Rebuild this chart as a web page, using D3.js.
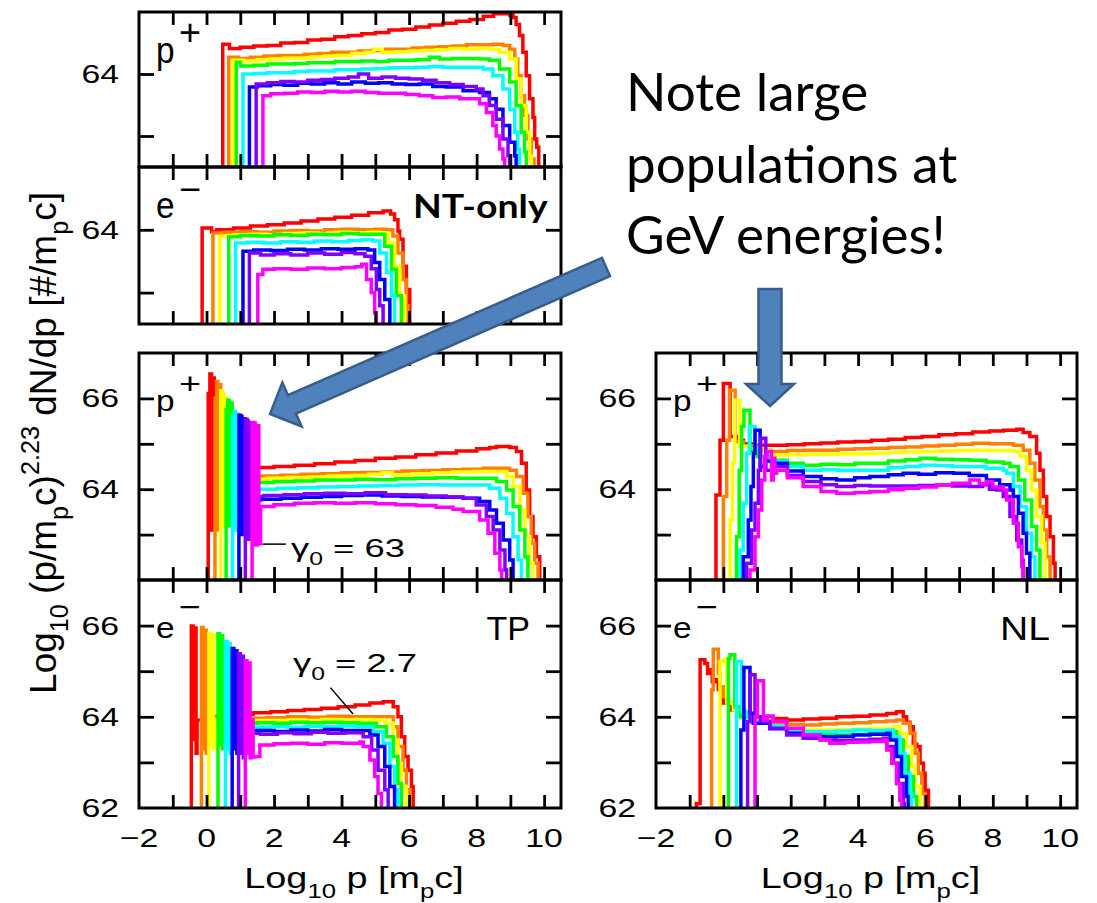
<!DOCTYPE html>
<html><head><meta charset="utf-8">
<script src="https://cdn.jsdelivr.net/npm/d3@7"></script>
<style>
html,body{margin:0;padding:0;background:#fff;}
svg{display:block;}
</style></head>
<body>
<svg id="chart" width="1097" height="903"></svg>
<script>
// Spectra: each curve is a list of [log10 p, log10 (p^2.23 dN/dp)] histogram points,
// ordered from the earliest (red) to the latest (magenta) time slice.
const sliceColors = ["#ff0000", "#ff8000", "#ffff00", "#00ff00", "#00ffff", "#0000ff", "#8000ff", "#ff00ff"];

const xTicks = [-2, 0, 2, 4, 6, 8, 10];

// Non-thermal injection only, protons
const ntProton = [
  [[0.48,62.5],[0.48,64.48],[0.68,64.41],[1.0,64.43],[1.4,64.45],[1.8,64.46],[2.2,64.5],[2.6,64.51],[3.0,64.55],[3.4,64.56],[3.8,64.6],[4.2,64.62],[4.6,64.65],[5.0,64.67],[5.4,64.71],[5.8,64.72],[6.2,64.76],[6.6,64.79],[7.0,64.82],[7.4,64.85],[7.8,64.88],[8.2,64.93],[8.5,64.97],[8.98,64.95],[9.08,64.91],[9.17,64.8],[9.27,64.62],[9.37,64.35],[9.47,63.97],[9.57,63.6],[9.67,63.3],[9.72,62.95],[9.78,62.82],[9.84,62.5]],
  [[0.66,62.5],[0.66,64.27],[0.95,64.25],[1.3,64.27],[1.7,64.29],[2.1,64.3],[2.5,64.3],[2.9,64.32],[3.3,64.33],[3.7,64.35],[4.1,64.35],[4.5,64.37],[4.9,64.38],[5.3,64.4],[5.7,64.4],[6.1,64.42],[6.5,64.43],[6.9,64.44],[7.3,64.45],[7.7,64.47],[8.1,64.47],[8.48,64.48],[8.78,64.46],[8.98,64.4],[9.13,64.24],[9.22,63.97],[9.32,63.65],[9.42,63.33],[9.52,62.95],[9.62,62.63],[9.7,62.5]],
  [[0.78,62.5],[0.78,64.22],[1.1,64.21],[1.5,64.23],[1.9,64.24],[2.3,64.26],[2.7,64.26],[3.1,64.28],[3.5,64.29],[3.9,64.3],[4.3,64.33],[4.7,64.35],[4.95,64.4],[5.2,64.35],[5.6,64.36],[6.0,64.37],[6.4,64.38],[6.8,64.39],[7.2,64.41],[7.6,64.4],[8.0,64.41],[8.4,64.4],[8.68,64.35],[8.98,64.24],[9.17,63.92],[9.32,63.49],[9.47,63.06],[9.57,62.68],[9.62,62.5]],
  [[0.88,62.5],[0.88,64.19],[1.0,64.13],[1.4,64.14],[1.8,64.16],[2.2,64.16],[2.6,64.17],[3.0,64.18],[3.4,64.18],[3.8,64.2],[4.2,64.2],[4.6,64.21],[5.0,64.2],[5.4,64.22],[5.8,64.22],[6.2,64.23],[6.6,64.27],[6.9,64.24],[7.3,64.25],[7.7,64.25],[8.1,64.24],[8.38,64.22],[8.68,64.08],[8.98,63.87],[9.17,63.49],[9.32,63.06],[9.42,62.74],[9.47,62.5]],
  [[1.08,62.5],[1.08,64.0],[1.4,64.01],[1.8,64.02],[2.2,64.02],[2.6,64.04],[3.0,64.05],[3.4,64.05],[3.8,64.07],[4.2,64.07],[4.6,64.08],[5.0,64.09],[5.4,64.1],[5.8,64.1],[6.2,64.11],[6.6,64.12],[7.0,64.11],[7.6,64.11],[8.19,64.08],[8.48,63.97],[8.78,63.76],[8.98,63.43],[9.13,63.06],[9.22,62.79],[9.27,62.5]],
  [[1.27,62.5],[1.27,63.79],[1.5,63.81],[1.9,63.83],[2.3,63.82],[2.7,63.85],[3.1,63.84],[3.5,63.86],[3.9,63.84],[4.3,63.87],[4.7,63.85],[5.1,63.86],[5.5,63.84],[5.9,63.83],[6.3,63.84],[6.7,63.8],[7.1,63.79],[7.6,63.73],[8.09,63.7],[8.38,63.6],[8.58,63.43],[8.78,63.17],[8.98,62.9],[9.13,62.68],[9.17,62.5]],
  [[1.47,62.5],[1.47,63.84],[1.8,63.86],[2.2,63.88],[2.6,63.87],[3.0,63.9],[3.4,63.91],[3.8,63.93],[4.2,63.95],[4.5,64.0],[4.8,63.93],[5.2,63.95],[5.6,63.93],[6.0,63.92],[6.4,63.9],[6.8,63.86],[7.2,63.83],[7.6,63.8],[7.99,63.76],[8.19,63.65],[8.38,63.49],[8.58,63.27],[8.78,62.95],[8.93,62.68],[8.98,62.5]],
  [[1.67,62.5],[1.67,63.65],[1.9,63.68],[2.3,63.69],[2.7,63.71],[3.1,63.7],[3.5,63.72],[3.9,63.71],[4.3,63.72],[4.7,63.7],[5.1,63.69],[5.5,63.69],[5.9,63.67],[6.3,63.65],[6.7,63.62],[7.1,63.63],[7.5,63.6],[7.8,63.6],[8.09,63.52],[8.29,63.38],[8.48,63.17],[8.58,63.0],[8.68,62.79],[8.78,62.63],[8.83,62.5]]
];

// Non-thermal injection only, electrons
const ntElectron = [
  [[-0.13,62.5],[-0.13,64.03],[0.15,63.97],[0.3,64.0],[0.8,64.03],[1.3,64.06],[1.8,64.08],[2.3,64.11],[2.8,64.14],[3.3,64.17],[3.8,64.2],[4.3,64.23],[4.8,64.27],[5.23,64.3],[5.45,64.25],[5.57,64.16],[5.67,63.98],[5.72,63.85],[5.82,63.42],[5.92,63.05],[6.02,62.5]],
  [[0.19,62.5],[0.19,63.95],[0.5,63.96],[1.0,63.97],[1.5,63.96],[2.0,63.98],[2.5,63.99],[3.0,63.98],[3.5,64.0],[4.0,64.01],[4.5,64.0],[5.0,64.01],[5.33,64.0],[5.52,63.9],[5.67,63.63],[5.82,63.21],[5.92,62.79],[5.97,62.5]],
  [[0.39,62.5],[0.39,63.9],[0.8,63.92],[1.3,63.93],[1.8,63.92],[2.3,63.94],[2.8,63.95],[3.3,63.94],[3.8,63.96],[4.3,63.95],[4.8,63.96],[5.13,63.95],[5.38,63.79],[5.57,63.42],[5.72,62.95],[5.87,62.5]],
  [[0.66,62.5],[0.66,63.89],[1.0,63.91],[1.5,63.9],[2.0,63.92],[2.5,63.91],[3.0,63.93],[3.5,63.92],[4.0,63.94],[4.5,63.93],[5.03,63.93],[5.28,63.74],[5.48,63.37],[5.62,62.95],[5.77,62.5]],
  [[0.86,62.5],[0.86,63.79],[1.2,63.8],[1.7,63.79],[2.2,63.81],[2.7,63.8],[3.2,63.82],[3.7,63.81],[4.2,63.83],[4.6,63.84],[4.93,63.82],[5.13,63.63],[5.33,63.32],[5.48,62.95],[5.57,62.5]],
  [[1.08,62.5],[1.08,63.66],[1.4,63.68],[1.9,63.67],[2.4,63.69],[2.9,63.68],[3.4,63.7],[3.9,63.69],[4.4,63.7],[4.78,63.68],[4.98,63.48],[5.13,63.21],[5.28,62.89],[5.43,62.5]],
  [[1.27,62.5],[1.27,63.63],[1.6,63.6],[2.0,63.62],[2.5,63.6],[3.0,63.63],[3.5,63.61],[4.0,63.64],[4.4,63.62],[4.69,63.58],[4.88,63.38],[5.03,63.05],[5.13,62.79],[5.23,62.5]],
  [[1.52,62.5],[1.52,63.29],[1.67,63.37],[2.0,63.38],[2.5,63.37],[3.0,63.39],[3.5,63.38],[4.0,63.4],[4.4,63.41],[4.6,63.45],[4.74,63.21],[4.88,63.0],[4.98,62.68],[5.03,62.5]]
];

// Test-particle run, protons
const tpProton = [
  [[0.05,62],[0.05,66.11],[0.1,66.54],[0.15,63.1],[0.19,66.45],[0.23,63.2],[0.27,64.48],[1.0,64.47],[1.58,64.48],[2.0,64.5],[2.6,64.53],[3.2,64.56],[3.8,64.6],[4.4,64.63],[5.0,64.68],[5.6,64.71],[6.2,64.76],[6.8,64.8],[7.4,64.84],[8.0,64.89],[8.39,64.92],[8.59,64.94],[8.98,64.92],[9.18,64.83],[9.33,64.57],[9.47,63.98],[9.57,63.4],[9.67,62.95],[9.77,62.51],[9.87,62]],
  [[0.25,62],[0.25,66.0],[0.3,66.37],[0.34,63.1],[0.38,66.3],[0.42,63.2],[0.46,64.28],[1.0,64.28],[1.6,64.29],[2.2,64.31],[2.8,64.33],[3.4,64.34],[4.0,64.36],[4.6,64.37],[5.2,64.38],[5.8,64.4],[6.4,64.41],[7.0,64.43],[7.6,64.44],[8.2,64.46],[8.61,64.46],[8.98,64.42],[9.18,64.28],[9.38,63.91],[9.52,63.4],[9.62,62.81],[9.72,62.37],[9.82,62]],
  [[0.42,62],[0.42,66.17],[0.47,66.1],[0.51,63.2],[0.55,66.0],[0.6,64.22],[1.2,64.22],[1.8,64.24],[2.4,64.26],[3.0,64.27],[3.6,64.29],[4.2,64.3],[4.8,64.33],[5.2,64.37],[5.5,64.32],[6.1,64.34],[6.7,64.36],[7.3,64.38],[7.9,64.39],[8.5,64.39],[8.89,64.28],[9.08,64.06],[9.28,63.54],[9.43,62.95],[9.57,62.37],[9.67,62]],
  [[0.58,62],[0.58,65.75],[0.63,65.96],[0.67,63.2],[0.71,65.9],[0.76,64.14],[1.4,64.15],[2.0,64.17],[2.6,64.18],[3.2,64.2],[3.8,64.2],[4.4,64.22],[5.0,64.21],[5.6,64.23],[6.2,64.24],[6.8,64.25],[7.4,64.24],[8.0,64.24],[8.59,64.17],[8.89,63.98],[9.08,63.62],[9.28,63.1],[9.43,62.51],[9.52,62]],
  [[0.77,62],[0.77,65.6],[0.82,65.71],[0.86,63.1],[0.9,65.65],[0.95,64.0],[1.5,64.0],[2.1,64.02],[2.7,64.03],[3.3,64.05],[3.9,64.06],[4.5,64.07],[5.1,64.08],[5.7,64.09],[6.3,64.1],[6.9,64.09],[7.6,64.09],[8.39,64.02],[8.69,63.8],[8.89,63.47],[9.08,62.95],[9.23,62.44],[9.33,62]],
  [[0.96,62],[0.96,65.63],[1.01,65.6],[1.05,63.0],[1.09,65.55],[1.14,63.76],[1.6,63.78],[2.2,63.8],[2.8,63.82],[3.4,63.84],[4.0,63.86],[4.6,63.87],[5.2,63.85],[5.8,63.84],[6.4,63.83],[7.0,63.82],[7.6,63.8],[8.09,63.73],[8.39,63.54],[8.59,63.25],[8.79,62.88],[8.98,62.44],[9.08,62]],
  [[1.15,62],[1.15,65.54],[1.2,65.5],[1.24,62.9],[1.28,65.45],[1.33,63.84],[1.7,63.86],[2.3,63.88],[2.9,63.9],[3.5,63.91],[4.1,63.9],[4.7,63.92],[5.3,63.88],[5.9,63.87],[6.5,63.85],[7.1,63.83],[7.6,63.8],[7.99,63.65],[8.29,63.4],[8.49,63.1],[8.69,62.66],[8.84,62.22],[8.89,62]],
  [[1.35,62],[1.35,65.47],[1.4,65.45],[1.45,62.77],[1.5,65.4],[1.55,62.8],[1.6,63.62],[2.0,63.66],[2.6,63.69],[3.2,63.7],[3.8,63.69],[4.4,63.7],[5.0,63.68],[5.6,63.66],[6.2,63.64],[6.8,63.6],[7.3,63.56],[7.6,63.51],[8.09,63.32],[8.34,63.03],[8.54,62.59],[8.69,62.22],[8.74,62]]
];

// Test-particle run, electrons
const tpElectron = [
  [[-0.45,62],[-0.45,65.99],[-0.4,63.5],[-0.36,65.95],[-0.31,63.2],[-0.28,63.93],[0.3,64.0],[0.9,64.05],[1.38,64.09],[1.9,64.11],[2.4,64.14],[2.9,64.16],[3.4,64.19],[3.9,64.22],[4.4,64.26],[4.84,64.3],[5.23,64.33],[5.53,64.22],[5.67,64.0],[5.77,63.56],[5.87,63.13],[5.97,62.83],[6.07,62.47],[6.12,62]],
  [[-0.15,62],[-0.15,65.96],[-0.1,63.3],[-0.06,65.9],[-0.01,63.2],[0.02,63.97],[0.6,63.97],[1.2,63.97],[1.8,63.98],[2.4,64.0],[3.0,63.99],[3.6,64.01],[4.2,64.0],[4.64,64.0],[5.23,64.0],[5.53,63.78],[5.67,63.35],[5.82,62.83],[5.92,62.4],[6.02,62]],
  [[0.07,62],[0.07,65.83],[0.12,63.4],[0.16,65.8],[0.21,63.3],[0.24,63.92],[0.8,63.91],[1.4,63.92],[1.9,63.92],[2.4,63.93],[2.9,63.92],[3.4,63.94],[3.9,63.93],[4.4,63.94],[4.9,63.93],[5.28,63.86],[5.53,63.49],[5.67,62.98],[5.77,62.47],[5.92,62]],
  [[0.34,62],[0.34,65.82],[0.39,63.4],[0.43,65.78],[0.48,63.3],[0.51,63.87],[1.0,63.86],[1.5,63.87],[2.0,63.86],[2.5,63.88],[3.0,63.87],[3.5,63.88],[4.0,63.87],[4.5,63.86],[5.03,63.78],[5.33,63.56],[5.53,63.13],[5.67,62.54],[5.77,62]],
  [[0.56,62],[0.56,65.65],[0.61,63.3],[0.65,65.6],[0.7,63.2],[0.73,63.77],[1.4,63.77],[1.9,63.78],[2.4,63.77],[2.9,63.79],[3.4,63.78],[3.9,63.8],[4.4,63.79],[4.94,63.67],[5.23,63.42],[5.43,62.91],[5.57,62.4],[5.67,62]],
  [[0.76,62],[0.76,65.5],[0.81,63.3],[0.85,65.45],[0.9,63.2],[0.93,63.69],[1.5,63.7],[2.0,63.68],[2.5,63.71],[3.0,63.69],[3.5,63.72],[4.0,63.7],[4.4,63.7],[4.84,63.6],[5.08,63.35],[5.28,62.91],[5.43,62.47],[5.57,62]],
  [[0.95,62],[0.95,65.38],[1.0,63.2],[1.04,65.33],[1.09,63.1],[1.12,63.64],[1.6,63.62],[2.1,63.65],[2.6,63.63],[3.1,63.66],[3.6,63.64],[4.1,63.65],[4.64,63.56],[4.89,63.27],[5.08,62.83],[5.28,62.4],[5.38,62]],
  [[1.15,62],[1.15,65.23],[1.2,63.2],[1.24,65.18],[1.29,63.1],[1.33,63.93],[1.38,63.12],[1.43,63.13],[1.58,63.38],[2.0,63.41],[2.5,63.42],[3.0,63.4],[3.5,63.43],[4.0,63.42],[4.54,63.45],[4.64,63.35],[4.84,63.05],[4.98,62.69],[5.08,62.32],[5.18,62]]
];

// Nonlinear run, protons
const nlProton = [
  [[-0.22,62],[-0.22,63.87],[-0.1,65.08],[0.0,66.33],[0.2,65.16],[0.39,65.08],[0.6,65.0],[0.9,64.97],[1.4,64.97],[1.9,64.98],[2.4,65.0],[2.9,65.02],[3.4,65.04],[3.9,65.05],[4.4,65.08],[4.9,65.1],[5.4,65.14],[5.9,65.16],[6.4,65.2],[6.9,65.22],[7.4,65.26],[7.9,65.28],[8.31,65.3],[8.71,65.32],[8.9,65.25],[9.1,65.16],[9.3,64.79],[9.4,64.42],[9.5,63.84],[9.6,63.4],[9.7,62.95],[9.8,62.37],[9.85,62]],
  [[0.0,62],[0.0,63.84],[0.1,65.08],[0.18,66.18],[0.35,65.05],[0.6,64.95],[1.0,64.86],[1.4,64.83],[1.9,64.85],[2.4,64.86],[2.9,64.86],[3.4,64.88],[3.9,64.89],[4.4,64.9],[4.9,64.92],[5.4,64.93],[5.9,64.95],[6.4,64.97],[6.9,64.99],[7.4,65.01],[7.9,65.0],[8.3,65.0],[8.61,64.97],[8.9,64.86],[9.1,64.57],[9.25,64.2],[9.4,63.62],[9.5,63.1],[9.6,62.51],[9.7,62]],
  [[0.2,62],[0.2,63.32],[0.27,64.57],[0.34,65.96],[0.49,64.94],[0.8,64.85],[1.38,64.75],[1.9,64.76],[2.4,64.77],[2.9,64.77],[3.4,64.78],[3.9,64.78],[4.35,64.79],[4.9,64.81],[5.4,64.82],[5.9,64.83],[6.4,64.84],[6.9,64.85],[7.32,64.86],[7.9,64.85],[8.61,64.83],[8.81,64.72],[9.0,64.42],[9.15,63.98],[9.3,63.4],[9.45,62.81],[9.55,62]],
  [[0.39,62],[0.39,62.95],[0.47,64.42],[0.54,65.38],[0.61,65.74],[0.79,64.86],[1.0,64.72],[1.38,64.64],[1.9,64.57],[2.37,64.53],[2.9,64.55],[3.4,64.54],[3.9,64.57],[4.35,64.57],[4.9,64.62],[5.4,64.65],[5.84,64.68],[6.3,64.66],[6.8,64.65],[7.32,64.64],[7.8,64.6],[8.31,64.57],[8.51,64.5],[8.76,64.2],[8.95,63.76],[9.15,63.18],[9.3,62.66],[9.4,62]],
  [[0.49,62],[0.49,62.66],[0.59,63.69],[0.69,64.79],[0.77,65.38],[0.94,64.9],[1.1,64.72],[1.38,64.61],[1.9,64.5],[2.37,64.42],[2.9,64.43],[3.4,64.41],[3.9,64.42],[4.35,64.42],[4.9,64.48],[5.4,64.5],[5.84,64.53],[6.3,64.52],[6.8,64.5],[7.32,64.5],[7.8,64.46],[8.31,64.42],[8.41,64.35],[8.61,64.06],[8.81,63.62],[9.0,63.03],[9.15,62.51],[9.25,62]],
  [[0.59,62],[0.59,62.51],[0.74,63.32],[0.82,64.06],[0.89,64.79],[0.94,65.3],[1.09,64.5],[1.25,64.62],[1.48,64.57],[1.9,64.4],[2.37,64.28],[2.9,64.23],[3.36,64.2],[3.9,64.25],[4.35,64.28],[4.9,64.32],[5.34,64.35],[5.8,64.33],[6.3,64.36],[6.83,64.35],[7.3,64.3],[7.81,64.2],[8.2,64.1],[8.51,63.98],[8.61,63.84],[8.76,63.47],[8.9,63.03],[9.0,62.59],[9.1,62]],
  [[0.69,62],[0.69,62.37],[0.84,63.1],[0.94,63.69],[1.04,64.42],[1.11,65.12],[1.26,64.42],[1.48,64.5],[1.9,64.3],[2.37,64.17],[2.9,64.1],[3.36,64.06],[3.9,64.08],[4.35,64.07],[4.9,64.07],[5.34,64.07],[5.8,64.08],[6.33,64.09],[6.8,64.07],[7.32,64.06],[7.7,64.1],[7.9,64.0],[8.11,63.98],[8.31,63.84],[8.51,63.4],[8.71,62.88],[8.86,62.44],[8.9,62]],
  [[0.79,62],[0.79,62.22],[0.94,62.95],[1.04,63.54],[1.14,64.2],[1.23,64.72],[1.3,64.83],[1.43,64.2],[1.48,64.68],[1.53,64.35],[1.58,64.42],[1.9,64.25],[2.37,64.06],[2.9,63.95],[3.36,63.91],[3.9,63.93],[4.35,63.95],[4.9,63.99],[5.34,64.02],[5.8,64.05],[6.33,64.09],[6.8,64.13],[7.32,64.2],[7.6,64.12],[7.81,64.17],[8.0,64.05],[8.31,63.98],[8.41,63.76],[8.61,63.25],[8.76,62.73],[8.86,62.29],[8.9,62]]
];

// Nonlinear run, electrons
const nlElectron = [
  [[-0.8,62],[-0.8,62.1],[-0.69,65.25],[-0.55,65.17],[-0.47,64.95],[-0.4,65.03],[-0.33,64.77],[-0.25,64.81],[-0.15,64.6],[-0.05,64.4],[0.0,64.3],[0.2,64.15],[0.39,64.15],[0.6,64.05],[0.89,64.0],[1.38,63.96],[1.88,63.93],[2.37,63.95],[2.87,63.97],[3.36,64.0],[3.86,64.01],[4.35,64.04],[4.85,64.07],[5.14,64.11],[5.34,64.0],[5.44,63.88],[5.54,63.78],[5.64,63.4],[5.74,63.35],[5.84,62.98],[5.94,62.76],[5.99,62.39],[6.09,62]],
  [[-0.35,62],[-0.35,64.59],[-0.3,65.48],[-0.15,64.95],[-0.1,64.66],[0.0,64.44],[0.15,64.3],[0.35,64.15],[0.6,64.05],[0.89,63.93],[1.38,63.84],[1.88,63.83],[2.37,63.82],[2.87,63.84],[3.36,63.86],[3.86,63.87],[4.35,63.89],[4.85,63.91],[5.14,63.93],[5.34,63.86],[5.54,63.64],[5.69,63.2],[5.79,62.76],[5.89,62.32],[5.99,62]],
  [[-0.1,62],[-0.1,65.21],[0.0,65.25],[0.1,64.3],[0.3,64.15],[0.5,64.05],[0.89,63.93],[1.38,63.78],[1.88,63.74],[2.37,63.71],[2.87,63.71],[3.36,63.72],[3.86,63.73],[4.35,63.75],[5.05,63.78],[5.24,63.64],[5.44,63.35],[5.59,62.91],[5.69,62.47],[5.84,62]],
  [[0.15,62],[0.15,65.28],[0.2,65.36],[0.34,64.22],[0.5,64.0],[0.89,63.86],[1.38,63.75],[1.88,63.68],[2.37,63.64],[2.87,63.61],[3.36,63.6],[3.86,63.62],[4.35,63.64],[4.95,63.67],[5.14,63.49],[5.34,63.13],[5.49,62.69],[5.64,62.25],[5.74,62]],
  [[0.39,62],[0.39,65.21],[0.54,64.11],[0.7,63.98],[0.89,63.89],[1.38,63.8],[1.88,63.71],[2.37,63.68],[2.87,63.67],[3.36,63.69],[3.86,63.71],[4.35,63.7],[4.85,63.71],[5.05,63.56],[5.24,63.2],[5.39,62.76],[5.54,62.32],[5.59,62]],
  [[0.52,62],[0.52,63.71],[0.61,65.08],[0.79,64.08],[0.89,63.86],[1.38,63.74],[1.88,63.64],[2.37,63.59],[2.87,63.56],[3.36,63.57],[3.86,63.6],[4.35,63.62],[4.85,63.64],[4.95,63.49],[5.14,63.13],[5.29,62.69],[5.44,62.25],[5.49,62]],
  [[0.72,62],[0.72,63.89],[0.79,64.92],[0.94,64.0],[1.1,63.9],[1.38,63.75],[1.88,63.6],[2.37,63.53],[2.87,63.49],[3.36,63.48],[3.86,63.49],[4.35,63.51],[4.75,63.53],[4.85,63.35],[5.05,62.98],[5.19,62.54],[5.34,62.1],[5.37,62]],
  [[0.94,62],[0.94,64.0],[1.01,64.79],[1.19,63.93],[1.3,64.02],[1.48,63.9],[1.88,63.75],[2.37,63.6],[2.87,63.5],[3.16,63.42],[3.6,63.44],[4.0,63.45],[4.35,63.46],[4.75,63.49],[4.85,63.27],[5.0,62.98],[5.14,62.54],[5.24,62.17],[5.29,62]]
];

const svg = d3.select("#chart");
const plotFont = "'Liberation Sans', Arial, Helvetica, sans-serif";
const STRETCH = 1.3;   // plot lettering is set wide

// Text with optional sub/superscript runs; sx/sy widen or heighten the lettering
function richText(parent, x, y, runs, size, opts = {}) {
  const sx = opts.sx == null ? STRETCH : opts.sx;
  const sy = opts.sy || 1;
  const g = parent.append("g").attr("transform", `translate(${x},${y}) scale(${sx},${sy})${opts.rotate ? " rotate(-90)" : ""}`);
  const t = g.append("text")
    .attr("font-family", opts.family || plotFont)
    .attr("font-size", size)
    .attr("font-weight", opts.weight || "normal")
    .attr("text-anchor", opts.anchor || "start")
    .attr("fill", "#000");
  let shift = 0;
  runs.forEach(r => {
    const [txt, kind] = typeof r === "string" ? [r, "n"] : r;
    let target = 0, fs = size;
    if (kind === "sub") { target = size * 0.32; fs = size * 0.68; }
    if (kind === "sup") { target = -size * 0.45; fs = size * 0.68; }
    t.append("tspan").attr("dy", target - shift).attr("font-size", fs).text(txt);
    shift = target;
  });
  return g;
}

const colX = { left: [139, 561], right: [656, 1077] };

const panels = [
  { data: ntProton,   col: "left",  y: [12, 167],  dom: [62.5, 65], yLab: [64],        sp: "p", tall: true },
  { data: ntElectron, col: "left",  y: [167, 324], dom: [62.5, 65], yLab: [64],        sp: "e", tall: true },
  { data: tpProton,   col: "left",  y: [353, 580], dom: [62, 67],   yLab: [66, 64],     sp: "p" },
  { data: tpElectron, col: "left",  y: [580, 808], dom: [62, 67],   yLab: [66, 64, 62], sp: "e", xLab: true },
  { data: nlProton,   col: "right", y: [353, 580], dom: [62, 67],   yLab: [66, 64],     sp: "p" },
  { data: nlElectron, col: "right", y: [580, 808], dom: [62, 67],   yLab: [66, 64, 62], sp: "e", xLab: true }
];

const scales = [];
panels.forEach((p, pi) => {
  const [x0, x1] = colX[p.col];
  const [y0, y1] = p.y;
  const x = d3.scaleLinear().domain([-2, 10.5]).range([x0, x1]);
  const y = d3.scaleLinear().domain(p.dom).range([y1, y0]);
  scales.push({ x, y });
  const g = svg.append("g");

  const clipId = "clip" + pi;
  svg.append("clipPath").attr("id", clipId)
    .append("rect").attr("x", x0).attr("y", y0).attr("width", x1 - x0).attr("height", y1 - y0);

  const line = d3.line().x(d => x(d[0])).y(d => y(d[1])).curve(d3.curveStepAfter);
  g.append("g").attr("clip-path", `url(#${clipId})`)
    .selectAll("path").data(p.data).join("path")
    .attr("d", line)
    .attr("fill", "none")
    .attr("stroke", (d, i) => sliceColors[i])
    .attr("stroke-width", 3.5)
    .attr("stroke-linejoin", "miter");

  // tick marks on all four sides, pointing inward
  const xt = d3.range(-1, 11);
  const yt = d3.range(Math.ceil(p.dom[0] + 0.01), Math.floor(p.dom[1] - 0.01) + 1);
  const styleAxis = a => { a.select(".domain").remove(); a.selectAll(".tick line").attr("stroke", "#000").attr("stroke-width", 2.8); };
  g.append("g").attr("transform", `translate(0,${y1})`).call(d3.axisBottom(x).tickValues(xt).tickSize(-13).tickFormat("")).call(styleAxis);
  g.append("g").attr("transform", `translate(0,${y0})`).call(d3.axisTop(x).tickValues(xt).tickSize(-13).tickFormat("")).call(styleAxis);
  g.append("g").attr("transform", `translate(${x0},0)`).call(d3.axisLeft(y).tickValues(yt).tickSize(-15).tickFormat("")).call(styleAxis);
  g.append("g").attr("transform", `translate(${x1},0)`).call(d3.axisRight(y).tickValues(yt).tickSize(-15).tickFormat("")).call(styleAxis);

  g.append("rect").attr("x", x0).attr("y", y0).attr("width", x1 - x0).attr("height", y1 - y0)
    .attr("fill", "none").attr("stroke", "#000").attr("stroke-width", 3);

  // y tick labels
  p.yLab.forEach(v => {
    richText(svg, x0 - 20, y(v) + 9, [String(v)], 26, { anchor: "end" });
  });

  // x tick labels and title
  if (p.xLab) {
    xTicks.forEach(v => {
      richText(svg, x(v), 847, [v < 0 ? "\u2212" + Math.abs(v) : String(v)], 26, { anchor: "middle" });
    });
    richText(svg, (x0 + x1) / 2 + 4, 888, ["Log", ["10", "sub"], " p  [m", ["p", "sub"], "c]"], 30, { anchor: "middle", sx: 1.26 });
  }

  // species label: letter plus a full-size charge sign
  const sy = p.tall ? 1.25 : 1;
  richText(svg, x0 + 17, y0 + (p.tall ? 51 : 58), [p.sp], 29, { sx: 1.15, sy });
  const signCy = y0 + (p.sp === "p" ? (p.tall ? 20.5 : 31) : (p.tall ? 23 : 27.5));
  richText(svg, x0 + 51, signCy + 0.34 * 29 * sy, [p.sp === "p" ? "+" : "\u2212"], 29, { sx: 1.3, sy, anchor: "middle" });
});

// run labels
richText(svg, 530, 640, ["TP"], 34, { anchor: "end", sx: 1.0 });
richText(svg, 1050, 640, ["NL"], 34, { anchor: "end", sx: 1.15 });

// gamma annotations, anchored in data space
{
  const { x, y } = scales[2];
  svg.append("line").attr("x1", x(1.66)).attr("y1", y(62.79)).attr("x2", x(2.35)).attr("y2", y(62.79))
    .attr("stroke", "#000").attr("stroke-width", 1.5);
  richText(svg, 291, 557, ["\u03b3", ["0", "sub"], " = 63"], 26, { sx: 1.4 });
}
{
  const { x, y } = scales[3];
  svg.append("line").attr("x1", x(3.67)).attr("y1", y(64.64)).attr("x2", x(4.34)).attr("y2", y(64.06))
    .attr("stroke", "#000").attr("stroke-width", 1.5);
  richText(svg, 293, 672, ["\u03b3", ["0", "sub"], " = 2.7"], 26, { sx: 1.4 });
}

// "NT-only"
richText(svg, 413, 218, ["NT-only"], 32, { family: "Lato, 'Open Sans', sans-serif", weight: 700, sx: 1.17 });

// y-axis title (rotated)
richText(svg, 56, 443, ["Log", ["10", "sub"], " (p/m", ["p", "sub"], "c)", ["2.23", "sup"], " dN/dp [#/m", ["p", "sub"], "c]"], 37, { anchor: "middle", rotate: true, sx: 1 });

// callout text
const note = svg.append("text").attr("font-family", "Lato, 'Open Sans', sans-serif").attr("font-size", 53).attr("fill", "#000");
[["Note large", 111], ["populations at", 183], ["GeV energies!", 254]].forEach(([s, yy]) => {
  note.append("tspan").attr("x", 626).attr("y", yy).text(s);
});

// callout arrows
function blockArrow(tail, tip, shaftHalf, headHalf, headLen) {
  const dx = tip[0] - tail[0], dy = tip[1] - tail[1];
  const L = Math.hypot(dx, dy);
  const ux = dx / L, uy = dy / L, nx = -uy, ny = ux;
  const bx = tip[0] - ux * headLen, by = tip[1] - uy * headLen;
  const pts = [
    [tail[0] + nx * shaftHalf, tail[1] + ny * shaftHalf],
    [bx + nx * shaftHalf, by + ny * shaftHalf],
    [bx + nx * headHalf, by + ny * headHalf],
    tip,
    [bx - nx * headHalf, by - ny * headHalf],
    [bx - nx * shaftHalf, by - ny * shaftHalf],
    [tail[0] - nx * shaftHalf, tail[1] - ny * shaftHalf]
  ];
  svg.append("path").attr("d", d3.line()(pts) + "Z")
    .attr("fill", "#4f81bd").attr("stroke", "#385d8a").attr("stroke-width", 2.5).attr("stroke-linejoin", "miter");
}
blockArrow([606, 267], [270, 414], 10, 24, 24);
blockArrow([770, 289], [770, 406], 11.5, 24, 22);
</script>
</body></html>
